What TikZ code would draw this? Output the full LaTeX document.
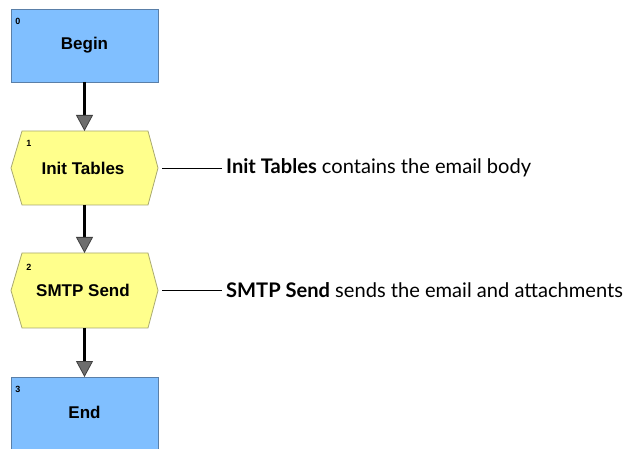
\documentclass[tikz,border=0pt]{standalone}
\usepackage{fontspec}
\setmainfont{Liberation Sans}
\newfontfamily\annfont{Lato}
\usetikzlibrary{arrows.meta,shapes.geometric}
\definecolor{boxblue}{HTML}{80BFFF}
\definecolor{boxblueline}{HTML}{5A7FA8}
\definecolor{boxyellow}{HTML}{FFFF8C}
\definecolor{boxyellowline}{HTML}{A8A870}
\definecolor{tipgray}{HTML}{6E6E6E}
\begin{document}
\begin{tikzpicture}[x=1pt,y=-1pt,
  bluebox/.style={draw=boxblueline,fill=boxblue,line width=0.8pt},
  yellowhex/.style={draw=boxyellowline,fill=boxyellow,line width=0.8pt},
  nodelabel/.style={font=\fontsize{17}{20}\selectfont\bfseries,inner sep=0pt},
  numlabel/.style={font=\fontsize{9}{10}\selectfont\bfseries,inner sep=0pt},
  flow/.style={line width=2.6pt,-{Triangle[width=17pt,length=16pt,line width=0.8pt,fill=tipgray,color=black!75]}},
  note/.style={line width=0.8pt},
  anntext/.style={font=\annfont\fontsize{20.1}{24}\selectfont,anchor=west,inner sep=0pt}
]
\useasboundingbox (0,0) rectangle (627,449);
% Begin
\draw[bluebox] (11,9) rectangle (158,82);
\coordinate (beginB) at (84.5,82);
\node[nodelabel] (begin) at (84.5,45) {Begin};
\node[numlabel] (n0) at (18,21) {0};
% Init Tables hexagon
\draw[yellowhex] (22,131) -- (148,131) -- (158,168) -- (148,205) -- (22,205) -- (11,168) -- cycle;
\coordinate (initT) at (84.5,131);
\coordinate (initB) at (84.5,205);
\coordinate (initR) at (158,168);
\node[nodelabel] (init) at (83,168) {Init Tables};
\node[numlabel] (n1) at (29,143) {1};
% SMTP Send hexagon
\draw[yellowhex] (22,253) -- (148,253) -- (158,290.5) -- (148,328) -- (22,328) -- (11,290.5) -- cycle;
\coordinate (smtpT) at (84.5,253);
\coordinate (smtpB) at (84.5,328);
\coordinate (smtpR) at (158,290.5);
\node[nodelabel] (smtp) at (83,290.5) {SMTP Send};
\node[numlabel] (n2) at (29,267) {2};
% End
\draw[bluebox] (11,377) rectangle (158,470);
\coordinate (endT) at (84.5,377);
\node[nodelabel] (end) at (84.5,412) {End};
\node[numlabel] (n3) at (18,389) {3};
% connectors
\draw[flow] (beginB) -- (initT);
\draw[flow] (initB) -- (smtpT);
\draw[flow] (smtpB) -- (endT);
% annotations
\node[anntext] (a1) at (226,168) {\textbf{Init Tables} contains the email body};
\node[anntext] (a2) at (226,290.5) {\textbf{SMTP Send} sends the email and attachments};
\draw[note] ([xshift=4pt]initR) -- ([xshift=-4pt]a1.west);
\draw[note] ([xshift=4pt]smtpR) -- ([xshift=-4pt]a2.west);
\end{tikzpicture}
\end{document}
